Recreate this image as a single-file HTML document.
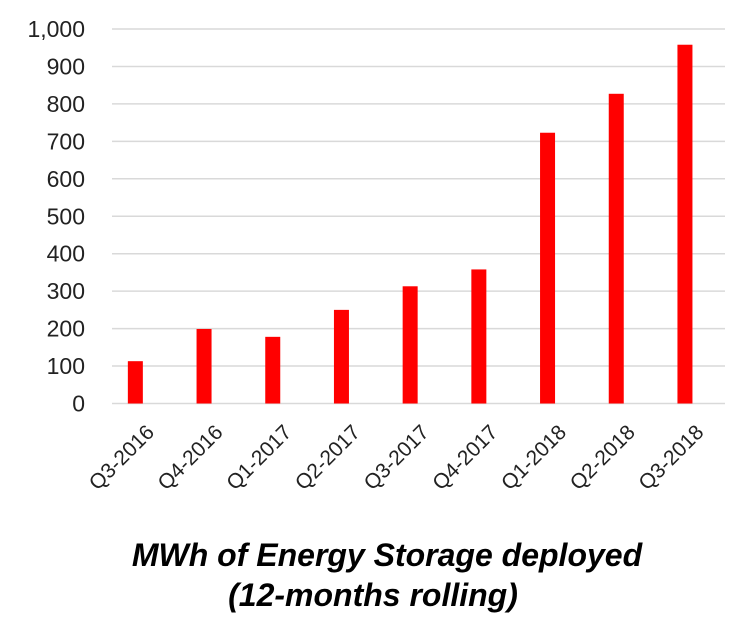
<!DOCTYPE html>
<html><head><meta charset="utf-8"><style>
body{margin:0;background:#fff;width:750px;height:630px;overflow:hidden;font-family:"Liberation Sans",sans-serif}
</style></head><body>
<svg width="750" height="630" id="c">
<text x="387" y="566" text-anchor="middle" font-size="32" font-weight="bold" font-style="italic">MWh of Energy Storage deployed</text>
<text x="373" y="606" text-anchor="middle" font-size="32" font-weight="bold" font-style="italic">(12-months rolling)</text>
</svg>
<script>
const categories=["Q3-2016","Q4-2016","Q1-2017","Q2-2017","Q3-2017","Q4-2017","Q1-2018","Q2-2018","Q3-2018"];
const values=[113,199,178,250,313,358,723,827,958];
const ticks=[0,100,200,300,400,500,600,700,800,900,1000];
const tickLabels=["0","100","200","300","400","500","600","700","800","900","1,000"];
const svg=document.getElementById('c');const NS="http://www.w3.org/2000/svg";
const y0=403.5,y1=29,x0=101,step=68.7;
const y=v=>y0-(v/1000)*(y0-y1);
const xc=i=>x0+step*(i+0.5);
function mk(t,a){const e=document.createElementNS(NS,t);for(const k in a)e.setAttribute(k,a[k]);svg.appendChild(e);return e;}
ticks.forEach((t,i)=>{
 const g=mk('line',{x1:112,x2:725,y1:y(t),y2:y(t),stroke:'#d9d9d9','stroke-width':1.5});
 
 
 const l=mk('text',{x:85,y:y(t)+8,'text-anchor':'end','font-size':23,fill:'#222'});
 l.textContent=tickLabels[i];
 
 
});
values.forEach((v,i)=>{
 const b=mk('rect',{x:xc(i)-7.5,y:y(v),width:15,height:y0-y(v),fill:'#f00'});
 
 
 const t=mk('text',{x:0,y:0,'text-anchor':'end','font-size':21,fill:'#222',transform:`translate(${xc(i)+20},${y0+30}) rotate(-45)`});
 t.textContent=categories[i];
 
 
});
</script>
</body></html>
